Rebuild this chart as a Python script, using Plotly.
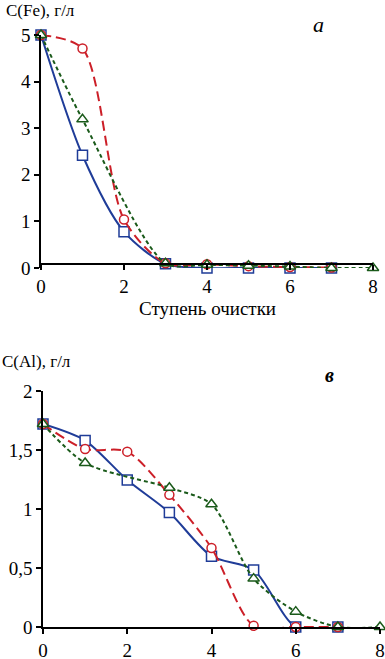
import plotly.graph_objects as go

# ---- data ----
steps = [0, 1, 2, 3, 4, 5, 6, 7]
green_steps = [0, 1, 3, 4, 5, 6, 7, 8]

fe_square = [5.0, 2.42, 0.78, 0.09, 0.0, 0.0, 0.0, 0.0]
fe_circle = [5.0, 4.71, 1.04, 0.1, 0.08, 0.04, 0.02, 0.01]
fe_triangle = [5.0, 3.19, 0.1, 0.07, 0.05, 0.03, 0.0, 0.0]

al_square = [1.72, 1.58, 1.246, 0.97, 0.60, 0.483, 0.0, 0.0]
al_circle = [1.72, 1.508, 1.486, 1.12, 0.67, 0.01, 0.0, 0.0]
al_triangle = [1.72, 1.39, 1.18, 1.04, 0.41, 0.13, 0.0, 0.0]

x_ticks = [0, 2, 4, 6, 8]
fe_ticks = [0, 1, 2, 3, 4, 5]
al_ticks = [0, 0.5, 1, 1.5, 2]
al_tick_text = ["0", "0,5", "1", "1,5", "2"]

W, H = 385, 659
BLUE = "#1F3C98"
RED = "#CC1F28"
GREEN = "#1A5A1A"
FONT = "Liberation Serif, Times New Roman, serif"


def px_x(p):
    return p / W


def px_y(p):
    return 1 - p / H


fig = go.Figure()

def add_series(x, y, color, symbol, dash, xa, ya, size):
    fig.add_trace(go.Scatter(
        x=x, y=y, xaxis=xa, yaxis=ya, mode="lines+markers",
        line=dict(color=color, width=2, dash=dash, shape="spline", smoothing=0.8),
        marker=dict(symbol=symbol, size=size, color="white",
                    line=dict(color=color, width=1.5)),
        cliponaxis=False, showlegend=False))

# top (Fe)
add_series(steps, fe_square, BLUE, "square", "solid", "x", "y", 10)
add_series(steps, fe_circle, RED, "circle", "10px,5px", "x", "y", 9)
add_series(green_steps, fe_triangle, GREEN, "triangle-up", "4px,3px", "x", "y", 10)
# bottom (Al)
add_series(steps, al_square, BLUE, "square", "solid", "x2", "y2", 10)
add_series(steps, al_circle, RED, "circle", "10px,5px", "x2", "y2", 9)
add_series(green_steps, al_triangle, GREEN, "triangle-up", "4px,3px", "x2", "y2", 10)

tickfont = dict(family=FONT, size=19, color="black")
common = dict(showgrid=False, zeroline=False, showline=True, linecolor="black",
              linewidth=1.5, ticks="outside", ticklen=5, tickwidth=1.5,
              tickcolor="black", tickfont=tickfont, automargin=False)

fig.update_layout(
    width=W, height=H,
    margin=dict(l=0, r=0, t=0, b=0),
    paper_bgcolor="white", plot_bgcolor="white",
    xaxis=dict(domain=[px_x(41), px_x(373)], range=[0, 8], tickvals=x_ticks,
               anchor="free", position=px_y(264), **common),
    yaxis=dict(domain=[px_y(268), px_y(35)], range=[0, 5], tickvals=fe_ticks,
               anchor="x", **common),
    xaxis2=dict(domain=[px_x(43), px_x(380)], range=[0, 8], tickvals=x_ticks,
                anchor="y2", **common),
    yaxis2=dict(domain=[px_y(627), px_y(391)], range=[0, 2], tickvals=al_ticks,
                ticktext=al_tick_text, anchor="x2", **common),
)

ann_font = dict(family=FONT, size=17, color="black")
fig.add_annotation(text="C(Fe), г/л", x=px_x(4), y=px_y(11), xref="paper", yref="paper",
                   xanchor="left", yanchor="middle", showarrow=False, font=ann_font)
fig.add_annotation(text="C(Al), г/л", x=px_x(0), y=px_y(362), xref="paper", yref="paper",
                   xanchor="left", yanchor="middle", showarrow=False, font=ann_font)
fig.add_annotation(text="Ступень очистки", x=px_x(208), y=px_y(309), xref="paper", yref="paper",
                   xanchor="center", yanchor="middle", showarrow=False,
                   font=dict(family=FONT, size=19, color="black"))
fig.add_annotation(text="<i>а</i>", x=px_x(318), y=px_y(25), xref="paper", yref="paper",
                   xanchor="center", yanchor="middle", showarrow=False,
                   font=dict(family=FONT, size=22, color="black"))
fig.add_annotation(text="<b><i>в</i></b>", x=px_x(329), y=px_y(375), xref="paper", yref="paper",
                   xanchor="center", yanchor="middle", showarrow=False,
                   font=dict(family=FONT, size=20, color="black"))

fig.write_html(
    "out.html",
    config={"displayModeBar": False},
    post_script="document.body.style.margin='0px';document.body.style.overflow='hidden';",
)
